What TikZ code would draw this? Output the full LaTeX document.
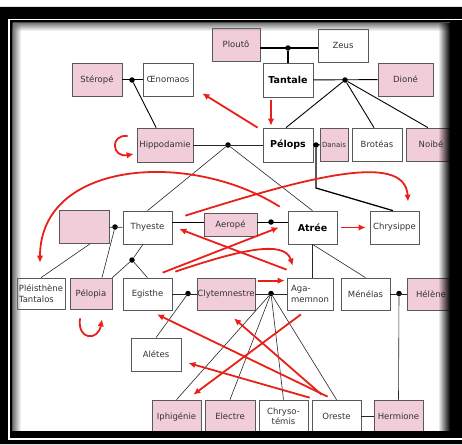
\documentclass[tikz,border=0pt]{standalone}
\usepackage{fontspec}
\setmainfont{DejaVu Sans}
\usepackage{xcolor}
\usepackage{tikz}
\usetikzlibrary{arrows.meta, fadings}
\definecolor{rosePink}{RGB}{241,205,217}
\definecolor{arrowRed}{RGB}{232,32,24}
\tikzfading[name=fadeLeft, left color=transparent!0, right color=transparent!100]
\tikzfading[name=fadeRight, left color=transparent!100, right color=transparent!0]
\tikzfading[name=fadeDown, top color=transparent!0, bottom color=transparent!100]
\newcommand*{\wedding}[2]{%
  \node [knot] (#1) at (#2) {};
}

\begin{document}
\begin{tikzpicture}[x=1pt, y=-1pt,
  every node/.style = {font=\fontsize{8.5}{10.5}\selectfont, text=black!80},
  box/.style    = {draw=black!65, line width=0.7pt, fill=white, inner sep=1pt,
                   minimum width=49pt, minimum height=33pt},
  rose/.style   = {box, fill=rosePink},
  chief/.style  = {font=\fontsize{9.5}{11}\selectfont\bfseries, text=black},
  knot/.style   = {circle, fill=black, inner sep=0pt, minimum size=5.5pt},
  bond/.style   = {line width=1.3pt},
  stem/.style   = {line width=0.9pt},
  link/.style   = {line width=0.6pt, black!85},
  blame/.style  = {draw=arrowRed, line width=1.8pt,
                   -{Latex[length=7pt,width=6.5pt]}},
  ]
  \useasboundingbox (0,0) rectangle (462,444);

  % Tantale, Oenomaos
  \node[rose, minimum width=50pt] (Sterope) at (97,79.5) {Stéropé};
  \node[box, minimum width=50pt] (Oenomaos) at (168,79.5) {Œnomaos};
  \node[rose, minimum width=48pt] (Plouto) at (236,44.5) {Ploutô};
  \node[box, minimum width=50pt] (Zeus) at (343,45.5) {Zeus};
  \node[box, chief, minimum width=50pt, minimum height=34pt] (Tantale) at (288,80) {Tantale};
  \node[rose, minimum width=55pt] (Dione) at (405.5,79.5) {Dioné};

  % Pelops
  \node[rose, minimum width=56pt, minimum height=34pt] (Hippodamie) at (165,145) {Hippodamie};
  \node[box, chief, minimum width=50pt, minimum height=34pt] (Pelops) at (288,145) {Pélops};
  \node[rose, minimum width=28pt, inner sep=0pt,
        font=\fontsize{7}{8}\selectfont] (Danais) at (334,144.5) {Danais};
  \node[box, minimum width=50pt] (Broteas) at (377,144.5) {Brotéas};
  \node[rose, minimum width=50pt] (Noibe) at (431,144.5) {Noibé};

  % Atree, Thyeste
  \node[rose, minimum width=50pt] (Blank) at (84,227) {};
  \node[box] (Thyeste) at (147.5,227.5) {Thyeste};
  \node[rose, minimum width=53pt, minimum height=23pt] (Aerope) at (230.5,224.5) {Aeropé};
  \node[box, chief] (Atree) at (312.5,227.5) {Atrée};
  \node[box] (Chrysippe) at (394.5,227.5) {Chrysippe};

  \node[box, minimum width=48pt, minimum height=31pt, inner sep=0pt,
        align=left] (Pleisthene) at (41,293.5) {Pléisthène\\Tantalos};
  \node[rose, minimum width=42pt, minimum height=31pt] (Pelopia) at (91,293.5) {Pélopia};
  \node[box, minimum height=32pt] (Egisthe) at (147.5,294) {Egisthe};
  \node[rose, minimum width=58pt, minimum height=32pt, inner sep=0pt] (Clytemnestre)
        at (226,294) {Clytemnestre};
  \node[box, minimum width=46pt, minimum height=32pt, align=left] (Agamemnon)
        at (310,294) {Aga-\\memnon};
  \node[box, minimum height=32pt] (Menelas) at (365.5,294) {Ménélas};
  \node[rose, minimum width=48pt, minimum height=32pt] (Helene) at (431,294) {Hélène};

  \node[box, minimum width=50pt] (Aletes) at (156,354.5) {Alétes};
  \node[rose] (Iphigenie) at (176.5,416.5) {Iphigénie};
  \node[rose, minimum width=50pt] (Electre) at (230,416.5) {Electre};
  \node[box, align=center] (Chrysotemis) at (283.5,416.5) {Chryso-\\témis};
  \node[box] (Oreste) at (336.5,416.5) {Oreste};
  \node[rose] (Hermione) at (398.5,416.5) {Hermione};

  \wedding{w1}{132,80}
  \wedding{w2}{288,48}
  \wedding{w3}{345,80}
  \wedding{w4}{316,145}
  \wedding{w5}{228,145}
  \wedding{w6}{115,227}
  \wedding{w7}{271,222}
  \wedding{w8}{132,260}
  \wedding{w9}{188,293.5}
  \wedding{w10}{271,293.5}
  \wedding{w11}{399,293.5}

  % family lines
  \draw[bond] (Sterope) -- (Oenomaos);
  \draw[stem] (w1) -- (Hippodamie);
  \draw[bond] (Plouto.east |- w2) -- (Zeus.west |- w2);
  \draw[bond] (w2) -- (Tantale);
  \draw[stem] (Tantale) -- (Dione);
  \draw[stem] (w3) -- ([shift={(-2,0)}]Pelops.north);
  \draw[stem] (w3) -- ([shift={(-3,0)}]Broteas.north);
  \draw[stem] (w3) -- ([shift={(-3,0)}]Noibe.north);
  \draw[bond] (Pelops) -- (Danais);
  \draw[bond] (w4) -- ++(0,43) -- ([shift={(-1.5,0)}]Chrysippe.north);
  \draw[link] (Hippodamie) -- (Pelops);
  \draw[link] (w5) -- (Thyeste.north);
  \draw[link] (w5) -- (Atree.north);
  \draw[link] (Blank) -- (Thyeste);
  \draw[link] (w6) -- ([shift={(11,0)}]Pelopia.north);
  \draw[link] ([shift={(6,0)}]Blank.south) -- (Pleisthene.north);
  \draw[stem] (Thyeste.east |- w7) -- (Aerope.west |- w7);
  \draw[stem] (Aerope.east |- w7) -- (Atree.west |- w7);
  \draw[link] ([shift={(-4.5,0)}]Thyeste.south) -- (w8);
  \draw[link] (w8) -- (Pelopia.north east);
  \draw[link] (w8) -- (Egisthe.north);
  \draw[link] (Atree.south) -- (Atree.south |- Agamemnon.north);
  \draw[link] (Atree.south) -- (Menelas.north);
  \draw[link] (Egisthe) -- (Clytemnestre);
  \draw[link] (w9) -- (Aletes.north);
  \draw[link] (Clytemnestre) -- (Agamemnon);
  \foreach \child in {Iphigenie, Electre, Chrysotemis, Oreste}
    \draw[link] (w10) -- (\child.north);
  \draw[link] (Menelas) -- (Helene);
  \draw[link] (w11) -- (Hermione.north);
  \draw[link] (Oreste) -- (Hermione);

  % red arrows
  \draw[blame] ([shift={(-5,0)}]Pelops.north west) -- ([shift={(9,-3)}]Oenomaos.south east);
  \draw[blame] ([shift={(-17,3)}]Tantale.south) -- ([shift={(-17,-2)}]Pelops.north);
  \draw[blame] ([shift={(-9,-9)}]Hippodamie.west) .. controls +(-18,-2) and +(-22,4)
    .. ([shift={(-3,9)}]Hippodamie.west);
  \draw[blame] ([shift={(-8,-4)}]Atree.north west) .. controls +(-90,-57) and +(0,-102)
    .. ([shift={(-1,-15)}]Pleisthene.north);
  \draw[blame] ([shift={(13,5)}]Thyeste.north east) .. controls +(115,-36) and +(-3,-52)
    .. ([shift={(13.5,-9)}]Chrysippe.north);
  \draw[blame] ([shift={(4,0)}]Atree.east) -- ([shift={(-4,0)}]Chrysippe.west);
  \draw[blame] ([shift={(40,-5)}]Egisthe.north west) -- ([shift={(-9,0)}]Atree.west);
  \draw[blame] ([shift={(3,-6)}]Egisthe.north east) .. controls +(65,-22) and +(-8,-26)
    .. ([shift={(6,-12)}]Agamemnon.north west);
  \draw[blame] ([shift={(0,-8)}]Agamemnon.north west) -- ([shift={(7,1.5)}]Thyeste.east);
  \draw[blame] ([shift={(3,3)}]Clytemnestre.north east) -- ([shift={(-2,3)}]Agamemnon.north west);
  \draw[blame] ([shift={(-11,9)}]Pelopia.south) .. controls +(-3,22) and +(-4,22)
    .. ([shift={(11,10)}]Pelopia.south);
  \draw[blame] ([shift={(16,-3)}]Oreste.north west) -- ([shift={(9.5,4)}]Egisthe.south);
  \draw[blame] ([shift={(-2,-2)}]Oreste.north west) -- ([shift={(7,8.5)}]Aletes.east);
  \draw[blame] ([shift={(10,-5)}]Oreste.north west) -- ([shift={(8,8)}]Clytemnestre.south);
  \draw[blame] ([shift={(-9,4)}]Agamemnon.south) -- ([shift={(-8,-5)}]Iphigenie.north east);

  % frame and shadow
  \fill[black!55, path fading=fadeLeft] (12.5,22.5) rectangle (21,431);
  \fill[black!55, path fading=fadeDown] (12.5,22.5) rectangle (450,31);
  \fill[black, path fading=fadeRight] (438,22.5) rectangle (450,431);
  \fill[black, even odd rule] (0,7) rectangle (462,444) (12.5,22.5) rectangle (450,431);
  \draw[white, line width=1.2pt] (462,19.5) -| (9,439) -- (462,439);
\end{tikzpicture}
\end{document}
